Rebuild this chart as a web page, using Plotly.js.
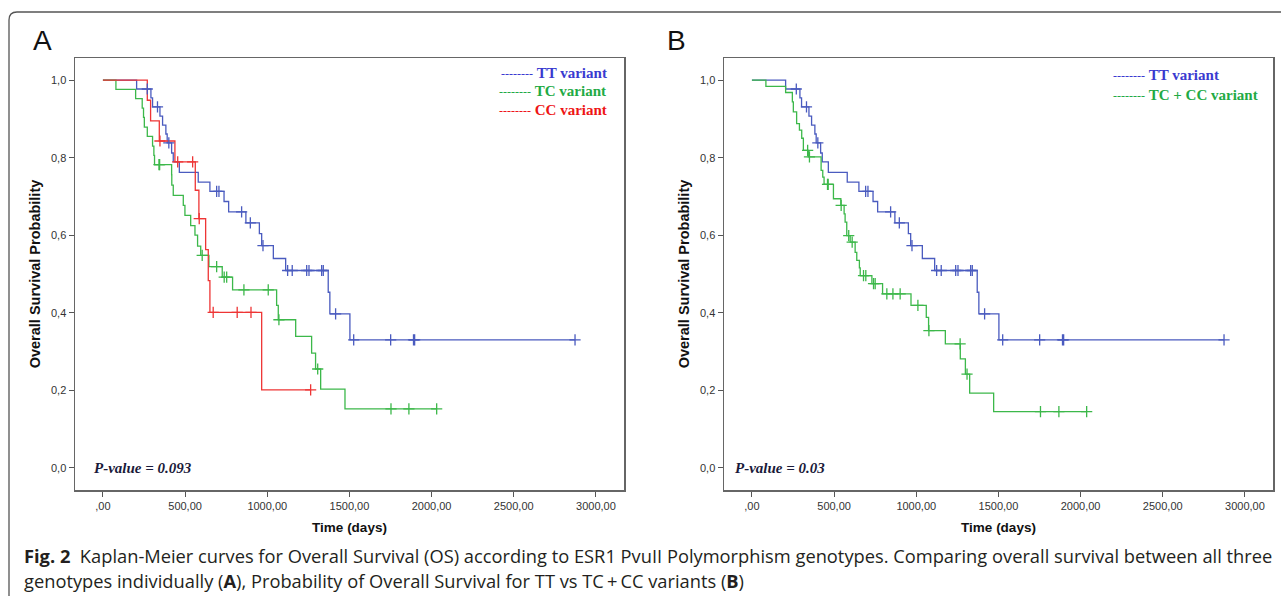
<!DOCTYPE html>
<html><head><meta charset="utf-8">
<script src="https://cdn.plot.ly/plotly-3.0.1.min.js"></script>
<style>html,body{margin:0;padding:0;background:#fff}#chart{width:1281px;height:596px}</style>
</head><body><div id="chart"></div>
<script>
// ---------- data ----------
// TT variant (identical in panels A and B)
const ttTimes = [205, 292, 302, 347, 363, 383, 391, 418, 428, 465, 580, 651, 737, 765, 870, 952, 966, 1037, 1112, 1371, 1381, 1503];
const ttSurv  = [0.977, 0.954, 0.931, 0.907, 0.884, 0.861, 0.838, 0.812, 0.789, 0.762, 0.737, 0.713, 0.687, 0.660, 0.632, 0.604, 0.573, 0.540, 0.509, 0.453, 0.397, 0.330];
const ttCensor = [270, 332, 401, 692, 706, 844, 897, 974, 1124, 1152, 1240, 1254, 1331, 1341, 1416, 1526, 1751, 1890, 1897, 2873];

// TC variant (panel A)
const tcTimes = [79, 199, 239, 247, 252, 270, 302, 310, 314, 418, 419, 428, 489, 499, 534, 560, 576, 595, 645, 726, 789, 1057, 1067, 1173, 1270, 1294, 1325, 1473];
const tcSurv  = [0.976, 0.952, 0.928, 0.904, 0.879, 0.855, 0.830, 0.806, 0.782, 0.756, 0.729, 0.703, 0.677, 0.651, 0.625, 0.600, 0.572, 0.548, 0.519, 0.492, 0.459, 0.419, 0.382, 0.339, 0.296, 0.255, 0.203, 0.152];
const tcCensor = [341, 345, 604, 692, 738, 753, 858, 1006, 1071, 1307, 1753, 1862, 2031];

// CC variant (panel A)
const ccTimes = [270, 290, 343, 438, 562, 584, 625, 641, 651, 966];
const ccSurv  = [0.948, 0.895, 0.843, 0.789, 0.716, 0.643, 0.563, 0.483, 0.401, 0.201];
const ccCensor = [347, 455, 546, 586, 671, 817, 901, 1264];

// TC + CC variant (panel B)
const tcccTimes = [85, 205, 246, 252, 272, 289, 303, 313, 343, 421, 431, 439, 496, 541, 561, 567, 577, 598, 628, 638, 654, 659, 730, 795, 968, 1061, 1075, 1177, 1268, 1299, 1325, 1471];
const tcccSurv  = [0.984, 0.968, 0.944, 0.918, 0.888, 0.871, 0.850, 0.819, 0.802, 0.767, 0.750, 0.731, 0.694, 0.677, 0.655, 0.634, 0.599, 0.582, 0.556, 0.535, 0.516, 0.496, 0.475, 0.449, 0.419, 0.388, 0.354, 0.320, 0.281, 0.242, 0.193, 0.145];
const tcccCensor = [339, 350, 460, 464, 543, 589, 610, 679, 693, 740, 750, 821, 858, 902, 1010, 1077, 1267, 1309, 1756, 1868, 2037];

// tick labels
const xTickVals = [0, 500, 1000, 1500, 2000, 2500, 3000];
const xTickText = [',00', '500,00', '1000,00', '1500,00', '2000,00', '2500,00', '3000,00'];
const yTickVals = [0, 0.2, 0.4, 0.6, 0.8, 1.0];
const yTickText = ['0,0', '0,2', '0,4', '0,6', '0,8', '1,0'];

const pValueA = '0.093';
const pValueB = '0.03';

// ---------- helpers ----------
function stepAt(times, surv, t) {
  let s = 1;
  for (let i = 0; i < times.length; i++) if (times[i] <= t) s = surv[i];
  return s;
}
function curveTrace(times, surv, censor, color, xa, ya) {
  const end = Math.max(times[times.length - 1], ...censor);
  return {
    x: [0, ...times, end], y: [1, ...surv, surv[surv.length - 1]],
    type: 'scatter', mode: 'lines', line: {shape: 'hv', color: color, width: 1.3},
    xaxis: xa, yaxis: ya, hoverinfo: 'skip', showlegend: false
  };
}
function censorTrace(times, surv, censor, color, xa, ya) {
  return {
    x: censor, y: censor.map(t => stepAt(times, surv, t)),
    type: 'scatter', mode: 'markers',
    marker: {symbol: 'cross-thin', size: 8, line: {color: color, width: 1.3}, color: color},
    xaxis: xa, yaxis: ya, hoverinfo: 'skip', showlegend: false
  };
}

const cBlue = '#4a5bbf', cGreen = '#3cb84a', cRed = '#ee3535';

const traces = [
  curveTrace(ttTimes, ttSurv, ttCensor, cBlue, 'x', 'y'),
  curveTrace(tcTimes, tcSurv, tcCensor, cGreen, 'x', 'y'),
  curveTrace(ccTimes, ccSurv, ccCensor, cRed, 'x', 'y'),
  censorTrace(ttTimes, ttSurv, ttCensor, cBlue, 'x', 'y'),
  censorTrace(tcTimes, tcSurv, tcCensor, cGreen, 'x', 'y'),
  censorTrace(ccTimes, ccSurv, ccCensor, cRed, 'x', 'y'),
  curveTrace(ttTimes, ttSurv, ttCensor, cBlue, 'x2', 'y2'),
  curveTrace(tcccTimes, tcccSurv, tcccCensor, cGreen, 'x2', 'y2'),
  censorTrace(ttTimes, ttSurv, ttCensor, cBlue, 'x2', 'y2'),
  censorTrace(tcccTimes, tcccSurv, tcccCensor, cGreen, 'x2', 'y2')
];

const W = 1281, H = 596;
const px = v => v / W, py = v => 1 - v / H;
const tickFont = {family: 'Liberation Sans, Arial, sans-serif', size: 11, color: '#333'};
const xTitleFont = {family: 'Liberation Sans, Arial, sans-serif', size: 13.5, color: '#111', weight: 'bold'};
const yTitleFont = {family: 'Liberation Sans, Arial, sans-serif', size: 14.5, color: '#111', weight: 'bold'};

function xAxis(domain, anchor) {
  return {
    domain: domain, anchor: anchor, range: [-170, 3171], tickvals: xTickVals, ticktext: xTickText,
    ticks: 'outside', ticklen: 5, tickcolor: '#555', tickwidth: 1, tickfont: tickFont,
    showline: true, linecolor: '#666', linewidth: 1.5, mirror: true, showgrid: false, zeroline: false,
    title: {text: '<b>Time (days)</b>', font: xTitleFont, standoff: 12}, fixedrange: true
  };
}
function yAxis(domain, anchor) {
  return {
    domain: domain, anchor: anchor, range: [-0.057, 1.057], tickvals: yTickVals, ticktext: yTickText,
    ticks: 'outside', ticklen: 5, tickcolor: '#555', tickwidth: 1, tickfont: tickFont,
    showline: true, linecolor: '#666', linewidth: 1.5, mirror: true, showgrid: false, zeroline: false,
    title: {text: '<b>Overall Survival Probability</b>', font: yTitleFont, standoff: 7}, fixedrange: true
  };
}
const yDom = [1 - 490 / H, 1 - 58 / H];

const serif = 'Liberation Serif, Times New Roman, serif';
function legendItem(xref, yref, x, y, text, color) {
  return {xref: xref, yref: yref, x: x, y: y, xanchor: 'left', yanchor: 'middle', showarrow: false,
    text: '<span style="font-weight:normal;font-size:12px">--------</span> <b>' + text + '</b>',
    font: {family: serif, size: 15, color: color}};
}

const capFont = {family: 'Open Sans, sans-serif', size: 18.3, color: '#231f20'};
const annotations = [
  {xref: 'paper', yref: 'paper', x: px(42), y: py(40), xanchor: 'center', yanchor: 'middle', showarrow: false,
   text: 'A', font: {family: 'Liberation Sans, Arial, sans-serif', size: 28, color: '#111'}},
  {xref: 'paper', yref: 'paper', x: px(676), y: py(40), xanchor: 'center', yanchor: 'middle', showarrow: false,
   text: 'B', font: {family: 'Liberation Sans, Arial, sans-serif', size: 28, color: '#111'}},
  legendItem('x domain', 'y domain', 0.772, 0.965, 'TT variant', '#3a3ad0'),
  legendItem('x domain', 'y domain', 0.768, 0.924, 'TC variant', '#22aa44'),
  legendItem('x domain', 'y domain', 0.768, 0.880, 'CC variant', '#ee1515'),
  legendItem('x2 domain', 'y2 domain', 0.705, 0.961, 'TT variant', '#3a3ad0'),
  legendItem('x2 domain', 'y2 domain', 0.705, 0.914, 'TC + CC variant', '#22aa44'),
  {xref: 'x domain', yref: 'y', x: 0.031, y: 0.0, xanchor: 'left', yanchor: 'middle', showarrow: false,
   text: '<b><i>P-value = ' + pValueA + '</i></b>', font: {family: serif, size: 15, color: '#1a1a3a'}},
  {xref: 'x2 domain', yref: 'y2', x: 0.016, y: 0.0, xanchor: 'left', yanchor: 'middle', showarrow: false,
   text: '<b><i>P-value = ' + pValueB + '</i></b>', font: {family: serif, size: 15, color: '#1a1a3a'}},
  {xref: 'paper', yref: 'paper', x: px(22), y: py(555), xanchor: 'left', yanchor: 'middle', showarrow: false,
   text: '<b>Fig. 2</b>  Kaplan-Meier curves for Overall Survival (OS) according to ESR1 PvuII Polymorphism genotypes. Comparing overall survival between all three',
   font: capFont},
  {xref: 'paper', yref: 'paper', x: px(22), y: py(580), xanchor: 'left', yanchor: 'middle', showarrow: false,
   text: 'genotypes individually (<b>A</b>), Probability of Overall Survival for TT vs TC\u2009+\u2009CC variants (<b>B</b>)',
   font: capFont}
];

const shapes = [
  {type: 'path', xref: 'paper', yref: 'paper',
   path: 'M ' + px(9) + ',' + py(610) + ' L ' + px(9) + ',' + py(20) + ' Q ' + px(9) + ',' + py(12) + ' ' + px(17) + ',' + py(12) + ' L ' + px(1295) + ',' + py(12),
   line: {color: '#555', width: 1.3}}
];

const layout = {
  width: W, height: H, margin: {l: 0, r: 0, t: 0, b: 0},
  paper_bgcolor: '#fff', plot_bgcolor: '#fff', showlegend: false,
  xaxis: xAxis([px(75), px(624)], 'y'),
  yaxis: yAxis(yDom, 'x'),
  xaxis2: xAxis([px(724), px(1273)], 'y2'),
  yaxis2: yAxis(yDom, 'x2'),
  annotations: annotations, shapes: shapes
};

Plotly.newPlot('chart', traces, layout, {staticPlot: true, displayModeBar: false});
</script></body></html>
